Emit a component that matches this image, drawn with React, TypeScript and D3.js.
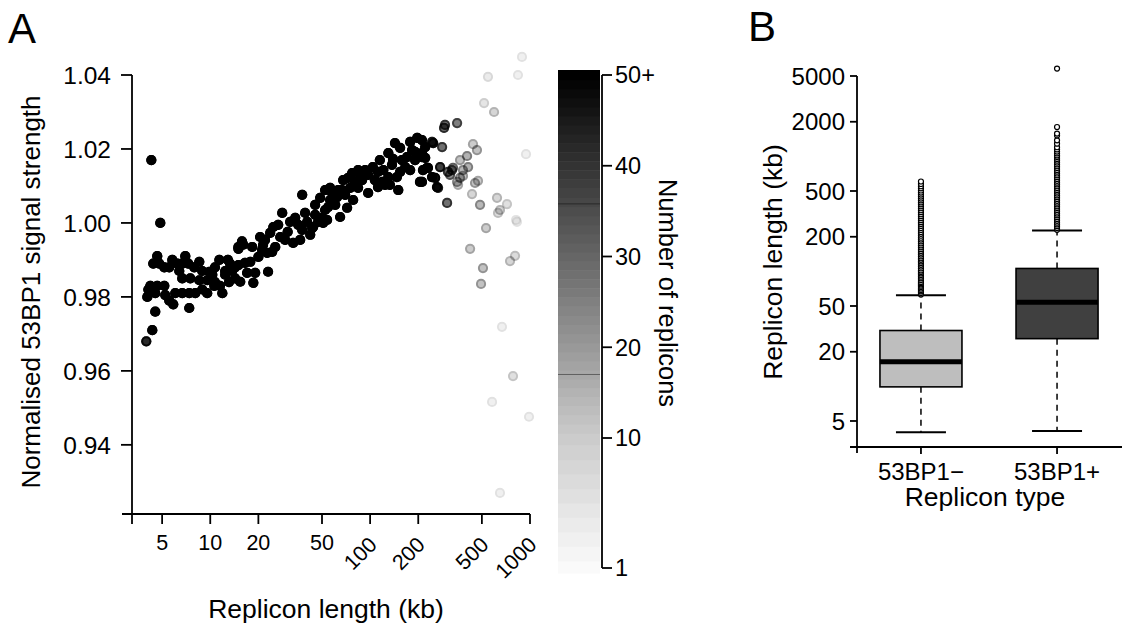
import React from 'react';
import * as d3 from 'd3';

// Panel A: one point per replicon length bin
const lengthKb = [
  4.28, 4.87, 3.98, 4.34, 4.53, 4.04, 4.10, 4.66, 4.40, 4.80,
  5.16, 5.79, 5.54, 6.22, 6.98, 6.68, 7.29, 8.54, 7.94, 8.91,
  9.86, 11.4, 10.7, 10.3, 12.4, 13.3, 14.3, 15.0, 15.8, 4.66,
  5.16, 4.53, 5.23, 5.54, 5.87, 6.04, 6.68, 7.39, 8.06, 8.91,
  9.57, 10.6, 11.9, 7.39, 6.68, 7.50, 8.54, 9.57, 10.7, 12.4,
  13.7, 14.3, 13.1, 11.5, 6.40, 4.22, 37.6, 28.2, 23.0, 18.6,
  15.4, 15.0, 16.5, 18.3, 20.5, 24.8, 23.7, 19.1, 17.0, 20.0,
  22.7, 24.4, 27.4, 29.4, 33.0, 31.6, 34.0, 39.2, 37.6, 43.4,
  40.4, 45.3, 48.7, 52.3, 56.2, 50.1, 45.3, 52.3, 57.9, 25.5,
  21.4, 15.0, 16.1, 44.0, 50.8, 143, 154, 130, 139, 178,
  197, 211, 221, 191, 170, 211, 191, 166, 178, 154,
  147, 205, 227, 244, 244, 150, 124, 130, 112, 104,
  97.2, 93.1, 84.1, 77.2, 72.9, 67.8, 80.6, 89.1, 107, 119,
  112, 133, 97.2, 84.1, 75.0, 63.1, 57.9, 62.2, 69.8, 78.3,
  71.8, 64.9, 54.6, 53.8, 56.2, 211, 221, 230, 214, 211,
  255, 262, 248, 282, 294, 290, 350, 274, 266, 307,
  325, 330, 316, 303, 365, 404, 410, 381, 365, 381,
  350, 355, 440, 466, 453, 473, 434, 487, 622, 718,
  649, 631, 516, 596, 546, 841, 891, 944, 818, 531,
  422, 508, 494, 750, 806, 829, 668, 783, 579, 986,
  649, 26.6, 30.5, 35.5, 36.5, 42.2, 47.3, 21.1, 17.8, 22.0,
  12.9, 60.5, 66.8, 86.6, 121, 137, 158, 183, 115,
];

const signal = [
  1.017, 1.000, 0.968, 0.971, 0.976, 0.980, 0.982, 0.991, 0.989, 0.989,
  0.988, 0.990, 0.988, 0.989, 0.991, 0.989, 0.989, 0.9895, 0.988, 0.987,
  0.9868, 0.990, 0.988, 0.986, 0.987, 0.989, 0.988, 0.993, 0.995, 0.983,
  0.983, 0.981, 0.9805, 0.979, 0.978, 0.981, 0.981, 0.981, 0.981, 0.982,
  0.981, 0.983, 0.981, 0.977, 0.985, 0.985, 0.9845, 0.9845, 0.984, 0.986,
  0.987, 0.985, 0.984, 0.983, 0.987, 0.983, 1.0076, 1.0027, 0.9868, 0.9838,
  0.9841, 0.9886, 0.9892, 0.9935, 0.9962, 0.9989, 0.9973, 0.9865, 0.9865, 0.9908,
  0.9919, 0.9922, 0.9962, 0.9954, 0.9946, 1.0003, 1.0014, 1.0027, 0.9981, 0.9986,
  1.0003, 1.0049, 1.0068, 1.0089, 1.0095, 1.0014, 1.0022, 1.0035, 1.0057, 0.9935,
  0.9941, 0.9935, 0.9941, 0.9989, 1.0, 1.0216, 1.0203, 1.0189, 1.0173, 1.0219,
  1.023, 1.0224, 1.0205, 1.0192, 1.0178, 1.0178, 1.017, 1.0151, 1.0143, 1.0138,
  1.0124, 1.0111, 1.0149, 1.0219, 1.0124, 1.0089, 1.0103, 1.0124, 1.0138, 1.0151,
  1.013, 1.0143, 1.0143, 1.0135, 1.0122, 1.0116, 1.0111, 1.0116, 1.0116, 1.0111,
  1.0097, 1.0103, 1.0081, 1.0095, 1.0095, 1.0089, 1.0081, 1.007, 1.0076, 1.0062,
  1.0041, 1.0016, 1.0043, 1.0008, 1.0062, 1.0189, 1.0176, 1.0149, 1.0143, 1.0111,
  1.0122, 1.0097, 1.0216, 1.0205, 1.0265, 1.0257, 1.027, 1.0151, 1.0095, 1.0138,
  1.0143, 1.0149, 1.013, 1.0054, 1.017, 1.0181, 1.0151, 1.0143, 1.0122, 1.0127,
  1.0111, 1.0103, 1.0213, 1.0197, 1.0108, 1.0114, 1.0078, 1.0049, 1.0068, 1.0051,
  1.0035, 1.0027, 1.0324, 1.030, 1.0395, 1.040, 1.0449, 1.0186, 1.0008, 0.9986,
  0.993, 0.9878, 0.9835, 0.9897, 0.9911, 1.0003, 0.9719, 0.9586, 0.9516, 0.9476,
  0.927, 0.9995, 0.9976, 0.9995, 0.9954, 0.9968, 1.0003, 0.9927, 0.9895, 0.9954,
  0.990, 1.0049, 1.0089, 1.0122, 1.0143, 1.0157, 1.017, 1.0197, 1.017,
];

const replicons = [
  50, 50, 42, 50, 50, 50, 50, 50, 50, 50,
  50, 50, 50, 50, 50, 50, 50, 50, 50, 50,
  50, 50, 50, 50, 50, 50, 50, 50, 50, 50,
  50, 50, 50, 50, 50, 50, 50, 50, 50, 50,
  50, 50, 50, 50, 50, 50, 50, 50, 50, 50,
  50, 50, 50, 50, 50, 50, 50, 50, 50, 50,
  50, 50, 50, 50, 50, 50, 50, 50, 50, 50,
  50, 50, 50, 50, 50, 50, 50, 50, 50, 50,
  50, 50, 50, 50, 50, 50, 50, 50, 50, 50,
  50, 50, 50, 50, 50, 50, 50, 50, 50, 50,
  50, 50, 50, 50, 50, 50, 50, 50, 50, 50,
  50, 50, 50, 35, 50, 50, 50, 50, 50, 50,
  50, 50, 50, 50, 50, 50, 50, 50, 50, 50,
  50, 50, 50, 50, 50, 50, 50, 50, 50, 50,
  50, 50, 50, 50, 50, 50, 50, 50, 50, 50,
  48, 45, 40, 28, 28, 30, 25, 38, 35, 28,
  25, 20, 22, 28, 12, 15, 15, 14, 15, 12,
  14, 10, 10, 12, 12, 10, 8, 14, 8, 6,
  8, 7, 5, 8, 4, 3, 3, 3, 3, 10,
  10, 12, 12, 8, 7, 3, 3, 6, 3, 3,
  3, 50, 50, 50, 50, 50, 50, 50, 50, 50,
  50, 50, 50, 50, 50, 50, 50, 50, 50,
];

const xTicksA = [5, 10, 20, 50, 100, 200, 500, 1000];
const yTicksA = [0.94, 0.96, 0.98, 1.0, 1.02, 1.04];
const countTicks = [1, 10, 20, 30, 40, 50];
const countSeams = [17, 35.8];

// Panel B: box plot of replicon length
const replTypes = ['53BP1\u2212', '53BP1+'];
const whiskerLow = [4.0, 4.1];
const quart1 = [9.9, 26];
const medians = [16.4, 54];
const quart3 = [30.6, 106];
const whiskerHigh = [62, 227];
const outliersNeg = [
  63, 65, 67, 69, 71, 73, 75, 77, 79, 81, 84, 87, 90, 93, 96, 99, 102, 106,
  110, 114, 118, 122, 126, 130, 135, 140, 145, 150, 156, 162, 168, 175, 182,
  189, 196, 204, 212, 220, 229, 238, 248, 258, 268, 279, 290, 302, 314, 327,
  340, 354, 368, 383, 398, 414, 430, 447, 465, 484, 505, 527, 550, 575, 605,
];
const outliersPos = [
  230, 238, 247, 256, 265, 275, 285, 296, 307, 318, 330, 342, 355, 368, 382,
  396, 411, 426, 442, 458, 475, 493, 511, 530, 550, 570, 591, 613, 636, 660,
  684, 710, 736, 763, 792, 821, 852, 884, 917, 951, 986, 1020, 1060, 1100,
  1150, 1200, 1290, 1380, 1520, 1580, 1800, 5800,
];
const yTicksB = [5, 20, 50, 200, 500, 2000, 5000];
const boxFills = ['#bebebe', '#404040'];

const FONT = "'Liberation Sans', Arial, Helvetica, sans-serif";
const AX = 1.8;

export default function App() {
  const x = d3.scaleLog().domain([3.24, 1000]).range([132, 530]);
  const y = d3.scaleLinear().domain([0.9213, 1.04]).range([514, 75]);
  const cY = d3.scaleLinear().domain([1, 10, 50]).range([568, 438, 75]);
  const alpha = (n: number) => Math.min(n, 50) / 50;
  const grey = d3.interpolateRgb('#ffffff', '#000000');
  const fmt = d3.format('.2f');

  const xB = d3.scalePoint<string>().domain(replTypes).range([857, 1121]).padding(0.47);
  const yB = d3.scaleLog().domain([2.97, 5000]).range([447, 76]);
  const boxW = 82;
  const capW = 50;

  const n = Math.min(lengthKb.length, signal.length, replicons.length);
  const pts = d3.range(n).map((i) => ({ kb: lengthKb[i], s: signal[i], c: replicons[i] }));
  const steps = d3.range(1, 51);
  const outliers = [outliersNeg, outliersPos];

  return (
    <svg width={1126} height={626} style={{ position: 'absolute', left: 0, top: 0, display: 'block' }}
      fontFamily={FONT}>
      <rect width={1126} height={626} fill="#fff" />

      {/* panel A */}
      <text x={8} y={43} fontSize={42}>A</text>
      {pts.map((p, i) => (
        <g key={i}>
          <circle cx={x(p.kb)} cy={y(p.s)} r={5.1} fill="#000" fillOpacity={alpha(p.c)} />
          <circle cx={x(p.kb)} cy={y(p.s)} r={4.1} fill="none"
            stroke="#000" strokeOpacity={alpha(p.c)} strokeWidth={2} />
        </g>
      ))}
      <line x1={x.range()[0]} x2={x.range()[0]} y1={y(1.04)} y2={524} stroke="#000" strokeWidth={AX} />
      <line x1={122} x2={x(1000)} y1={y.range()[0]} y2={y.range()[0]} stroke="#000" strokeWidth={AX} />
      {yTicksA.map((t) => (
        <g key={t}>
          <line x1={121} x2={132} y1={y(t)} y2={y(t)} stroke="#000" strokeWidth={AX} />
          <text x={111} y={y(t)} dy="0.36em" textAnchor="end" fontSize={24.5}>{fmt(t)}</text>
        </g>
      ))}
      {xTicksA.map((t) => (
        <g key={t}>
          <line x1={x(t)} x2={x(t)} y1={514} y2={524} stroke="#000" strokeWidth={AX} />
          {t < 100 ? (
            <text x={x(t)} y={550} textAnchor="middle" fontSize={21.5}>{t}</text>
          ) : (
            <text transform={`translate(${x(t) + 8},546) rotate(-45)`} textAnchor="end" fontSize={21.5}>{t}</text>
          )}
        </g>
      ))}
      <text x={326} y={618} textAnchor="middle" fontSize={26.5}>Replicon length (kb)</text>
      <text transform="translate(40,292) rotate(-90)" textAnchor="middle" fontSize={26}>
        Normalised 53BP1 signal strength
      </text>

      {/* colour key */}
      {steps.map((v) => {
        const top = v === 50 ? 70 : cY(v + 0.5);
        const bot = v === 1 ? 573 : cY(v - 0.5);
        return <rect key={v} x={558} width={42} y={top} height={bot - top + 0.5} fill={grey(alpha(v))} />;
      })}
      {countSeams.map((v) => (
        <line key={v} x1={558} x2={600} y1={cY(v)} y2={cY(v)} stroke="#000" strokeOpacity={0.55} strokeWidth={0.8} />
      ))}
      <line x1={602} x2={602} y1={cY(50)} y2={cY(1)} stroke="#000" strokeWidth={AX} />
      {countTicks.map((t) => (
        <g key={t}>
          <line x1={602} x2={612} y1={cY(t)} y2={cY(t)} stroke="#000" strokeWidth={AX} />
          <text x={615} y={cY(t)} dy="0.36em" fontSize={23.5}>{t === 50 ? '50+' : t}</text>
        </g>
      ))}
      <text transform="translate(659,293) rotate(90)" textAnchor="middle" fontSize={25.5}>Number of replicons</text>

      {/* panel B */}
      <text x={748} y={41} fontSize={42}>B</text>
      {replTypes.map((k, i) => {
        const cx = xB(k) as number;
        return (
          <g key={k}>
            <line x1={cx} x2={cx} y1={yB(quart3[i])} y2={yB(whiskerHigh[i])} stroke="#000" strokeWidth={1.5} strokeDasharray="6,5" />
            <line x1={cx} x2={cx} y1={yB(quart1[i])} y2={yB(whiskerLow[i])} stroke="#000" strokeWidth={1.5} strokeDasharray="6,5" />
            <line x1={cx - capW / 2} x2={cx + capW / 2} y1={yB(whiskerHigh[i])} y2={yB(whiskerHigh[i])} stroke="#000" strokeWidth={2} />
            <line x1={cx - capW / 2} x2={cx + capW / 2} y1={yB(whiskerLow[i])} y2={yB(whiskerLow[i])} stroke="#000" strokeWidth={2} />
            <rect x={cx - boxW / 2} width={boxW} y={yB(quart3[i])} height={yB(quart1[i]) - yB(quart3[i])}
              fill={boxFills[i]} stroke="#000" strokeWidth={1.6} />
            <line x1={cx - boxW / 2} x2={cx + boxW / 2} y1={yB(medians[i])} y2={yB(medians[i])} stroke="#000" strokeWidth={5} />
            {outliers[i].map((o, j) => (
              <circle key={j} cx={cx} cy={yB(o)} r={2.5} fill="#fff" stroke="#000" strokeWidth={1.2} />
            ))}
          </g>
        );
      })}
      <line x1={857} x2={857} y1={yB(5000)} y2={453} stroke="#000" strokeWidth={AX} />
      <line x1={850} x2={1122} y1={447} y2={447} stroke="#000" strokeWidth={AX} />
      {yTicksB.map((t) => (
        <g key={t}>
          <line x1={850} x2={857} y1={yB(t)} y2={yB(t)} stroke="#000" strokeWidth={AX} />
          <text x={845} y={yB(t)} dy="0.36em" textAnchor="end" fontSize={24}>{t}</text>
        </g>
      ))}
      {replTypes.map((k) => (
        <g key={k}>
          <line x1={xB(k)} x2={xB(k)} y1={447} y2={454} stroke="#000" strokeWidth={AX} />
          <text x={xB(k)} y={480} textAnchor="middle" fontSize={24}>{k}</text>
        </g>
      ))}
      <text x={985} y={506} textAnchor="middle" fontSize={26.5}>Replicon type</text>
      <text transform="translate(782,262) rotate(-90)" textAnchor="middle" fontSize={26.5}>Replicon length (kb)</text>
    </svg>
  );
}
